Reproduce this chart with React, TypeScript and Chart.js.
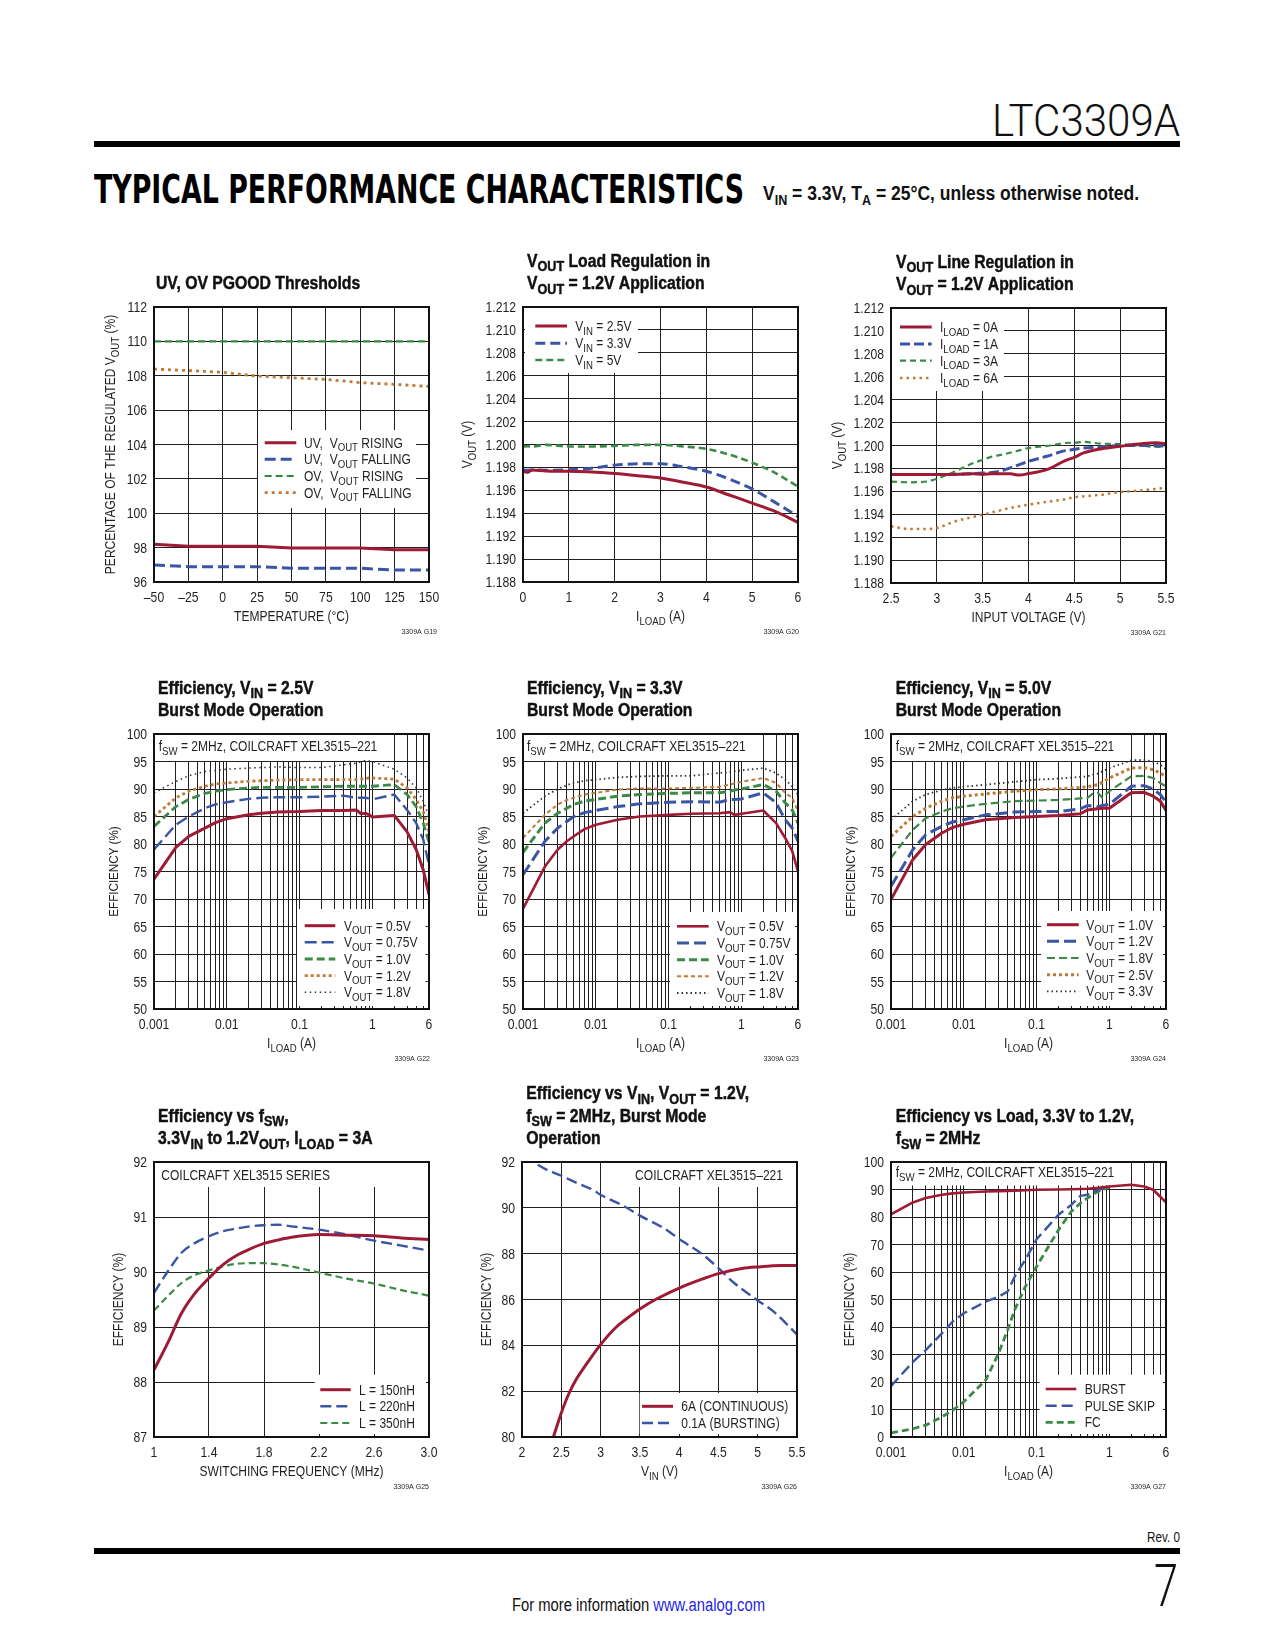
import React, { useEffect, useLayoutEffect, useRef } from "react";
import { Chart, registerables } from "chart.js";

Chart.register(...registerables);

/* ---------------- colours & fonts ---------------- */
const SANS = '"Liberation Sans", Arial, Helvetica, sans-serif';
const TXT = "#231f20";
const GRID = "#231f20";
const RED = "#9e1b36";
const BLUE = "#3b55a5";
const GREEN = "#3b8a47";
const ORANGE = "#c07a38";
const DOTS = "#333333";

/* ---------------- G19 : UV / OV PGOOD thresholds ---------------- */
const g19Temp = [-50, -25, 0, 25, 50, 75, 100, 125, 150];
const g19UvRising = [98.19, 98.08, 98.08, 98.08, 97.98, 97.98, 97.98, 97.88, 97.88];
const g19UvFalling = [96.99, 96.89, 96.89, 96.89, 96.8, 96.8, 96.8, 96.7, 96.7];
const g19OvRising = [110, 110, 110, 110, 110, 110, 110, 110, 110];
const g19OvFalling = [108.39, 108.3, 108.2, 107.98, 107.88, 107.79, 107.6, 107.5, 107.38];
const g19XTicks = [-50, -25, 0, 25, 50, 75, 100, 125, 150];
const g19XLabels = ["–50", "–25", "0", "25", "50", "75", "100", "125", "150"];
const g19YTicks = [96, 98, 100, 102, 104, 106, 108, 110, 112];
const g19YLabels = ["96", "98", "100", "102", "104", "106", "108", "110", "112"];

/* ---------------- G20 : load regulation ---------------- */
const g20Load = [0, 0.1, 0.2, 0.5, 1, 1.5, 2, 2.5, 3, 3.5, 4, 4.5, 5, 5.5, 6];
const g20Vin25 = [1.19769, 1.19757, 1.19778, 1.19769, 1.19766, 1.1976, 1.19746, 1.19728, 1.19708, 1.1967, 1.19629, 1.19559, 1.19489, 1.19416, 1.1932];
const g20Vin33 = [1.1978, 1.19775, 1.19778, 1.19776, 1.1978, 1.19793, 1.1982, 1.19831, 1.19831, 1.19804, 1.19766, 1.19699, 1.19612, 1.19495, 1.19372];
const g20Vin5 = [1.19983, 1.19985, 1.19983, 1.19997, 1.19983, 1.19983, 1.19988, 1.19997, 1.19997, 1.19983, 1.19962, 1.19912, 1.19842, 1.19752, 1.19632];
const g20XTicks = [0, 1, 2, 3, 4, 5, 6];
const g20XLabels = ["0", "1", "2", "3", "4", "5", "6"];
const regYTicks = [1.188, 1.19, 1.192, 1.194, 1.196, 1.198, 1.2, 1.202, 1.204, 1.206, 1.208, 1.21, 1.212];
const regYLabels = ["1.188", "1.190", "1.192", "1.194", "1.196", "1.198", "1.200", "1.202", "1.204", "1.206", "1.208", "1.210", "1.212"];

/* ---------------- G21 : line regulation ---------------- */
const g21Vin = [2.5, 2.7, 2.9, 3.0, 3.2, 3.4, 3.5, 3.6, 3.7, 3.8, 3.9, 4.0, 4.2, 4.4, 4.5, 4.6, 4.8, 5.0, 5.2, 5.4, 5.5];
const g21Load0 = [1.19748, 1.19748, 1.19748, 1.19748, 1.19748, 1.19753, 1.19748, 1.19753, 1.19753, 1.19753, 1.19742, 1.19755, 1.19789, 1.19868, 1.19897, 1.19935, 1.19972, 1.19993, 1.20013, 1.20025, 1.20013];
const g21Load1 = [1.19748, 1.19748, 1.19748, 1.19748, 1.19748, 1.19755, 1.1976, 1.19765, 1.19778, 1.19805, 1.19833, 1.19862, 1.19906, 1.19955, 1.19967, 1.19978, 1.1999, 1.19999, 1.2, 1.19999, 1.19995];
const g21Load3 = [1.19684, 1.19679, 1.19687, 1.1971, 1.19774, 1.19847, 1.19875, 1.19903, 1.19918, 1.19937, 1.19958, 1.19978, 1.19996, 1.20022, 1.20025, 1.20031, 1.20016, 1.20013, 1.20002, 1.19987, 1.19992];
const g21Load6 = [1.19295, 1.19271, 1.19271, 1.1928, 1.19338, 1.19377, 1.19396, 1.19416, 1.19436, 1.19455, 1.1947, 1.19484, 1.19508, 1.19531, 1.19548, 1.19556, 1.19571, 1.19594, 1.19606, 1.19622, 1.19629];
const g21XTicks = [2.5, 3, 3.5, 4, 4.5, 5, 5.5];
const g21XLabels = ["2.5", "3", "3.5", "4", "4.5", "5", "5.5"];

/* ---------------- shared log axis ---------------- */
const logTicks = [0.001, 0.002, 0.003, 0.004, 0.005, 0.006, 0.007, 0.008, 0.009, 0.01, 0.02, 0.03, 0.04, 0.05, 0.06, 0.07, 0.08, 0.09, 0.1, 0.2, 0.3, 0.4, 0.5, 0.6, 0.7, 0.8, 0.9, 1, 2, 3, 4, 5, 6];
const logLabels = ["0.001", "", "", "", "", "", "", "", "", "0.01", "", "", "", "", "", "", "", "", "0.1", "", "", "", "", "", "", "", "", "1", "", "", "", "", "6"];
const effYTicks = [50, 55, 60, 65, 70, 75, 80, 85, 90, 95, 100];
const effYLabels = ["50", "55", "60", "65", "70", "75", "80", "85", "90", "95", "100"];

/* ---------------- G22 : efficiency VIN = 2.5V ---------------- */
const g22Load = [0.001, 0.002, 0.003, 0.005, 0.007, 0.01, 0.02, 0.03, 0.05, 0.1, 0.2, 0.4, 0.6, 0.7, 0.8, 0.9, 1, 2, 3, 4, 5, 6];
const g22Vout05 = [73.6, 79.4, 81.4, 82.9, 83.9, 84.6, 85.3, 85.6, 85.8, 85.9, 86.1, 86.1, 86.2, 85.5, 85.6, 85.3, 84.9, 85.2, 82.2, 79.0, 75.3, 70.8];
const g22Vout075 = [79.0, 83.5, 85.0, 86.5, 87.2, 87.6, 88.2, 88.4, 88.5, 88.5, 88.6, 88.8, 88.4, 88.4, 88.4, 88.3, 88.1, 89.0, 86.2, 83.8, 80.8, 76.2];
const g22Vout10 = [83.2, 86.8, 88.1, 89.2, 89.6, 89.9, 90.2, 90.3, 90.3, 90.3, 90.4, 90.5, 90.5, 90.5, 90.5, 90.5, 90.5, 90.8, 89.0, 86.8, 83.8, 80.3];
const g22Vout12 = [85.0, 88.4, 89.6, 90.5, 90.9, 91.1, 91.4, 91.5, 91.6, 91.7, 91.7, 91.7, 91.7, 91.8, 91.9, 92.0, 92.0, 91.8, 90.2, 88.1, 85.9, 82.3];
const g22Vout18 = [89.3, 91.4, 92.4, 93.2, 93.4, 93.6, 93.8, 93.9, 94.0, 93.9, 93.9, 94.4, 94.7, 94.9, 95.2, 95.1, 95.0, 93.6, 92.0, 90.2, 87.8, 85.0];

/* ---------------- G23 : efficiency VIN = 3.3V ---------------- */
const g23Load = [0.001, 0.002, 0.003, 0.004, 0.005, 0.007, 0.01, 0.02, 0.04, 0.1, 0.2, 0.5, 0.7, 0.8, 1, 2, 3, 4, 5, 6];
const g23Vout05 = [68.2, 75.9, 79.0, 80.5, 81.4, 82.7, 83.5, 84.4, 85.0, 85.3, 85.5, 85.6, 85.8, 85.3, 85.5, 86.1, 83.8, 81.1, 78.7, 75.0];
const g23Vout075 = [74.4, 80.5, 82.9, 84.1, 85.0, 85.7, 86.1, 86.8, 87.3, 87.6, 87.7, 87.6, 88.1, 88.1, 88.2, 89.3, 87.5, 84.4, 82.9, 80.5];
const g23Vout10 = [78.5, 83.8, 85.6, 86.5, 87.2, 87.8, 88.1, 88.7, 89.0, 89.2, 89.3, 89.3, 89.6, 89.8, 90.0, 90.8, 89.6, 87.5, 86.2, 83.8];
const g23Vout12 = [81.1, 85.3, 87.2, 88.0, 88.4, 89.0, 89.3, 89.9, 90.1, 90.1, 90.2, 90.4, 90.8, 91.0, 91.3, 92.0, 91.1, 89.3, 88.4, 85.9];
const g23Vout18 = [85.6, 88.7, 90.0, 90.7, 91.1, 91.5, 91.7, 92.1, 92.3, 92.4, 92.4, 92.9, 93.1, 93.2, 93.4, 93.8, 92.9, 91.7, 90.5, 89.0];

/* ---------------- G24 : efficiency VIN = 5.0V ---------------- */
const g24Load = [0.001, 0.002, 0.003, 0.005, 0.007, 0.01, 0.02, 0.05, 0.1, 0.2, 0.4, 0.5, 0.6, 0.7, 0.8, 1, 2, 3, 4, 5, 6];
const g24Vout10 = [69.9, 77.2, 79.9, 82.0, 83.0, 83.6, 84.4, 84.8, 85.0, 85.2, 85.5, 86.2, 86.3, 86.4, 86.5, 86.5, 89.3, 89.4, 88.7, 87.8, 86.1];
const g24Vout12 = [72.3, 79.0, 81.7, 83.2, 84.0, 84.4, 85.3, 85.8, 85.9, 85.9, 86.4, 87.0, 86.9, 86.8, 87.0, 87.2, 90.5, 90.6, 90.0, 89.0, 87.6];
const g24Vout18 = [77.5, 82.6, 84.7, 85.9, 86.5, 86.8, 87.3, 87.8, 87.9, 88.0, 88.3, 88.4, 89.2, 89.3, 88.4, 89.6, 92.3, 92.4, 92.0, 91.1, 90.5];
const g24Vout25 = [81.4, 85.0, 86.5, 87.8, 88.4, 88.7, 89.1, 89.6, 89.9, 90.0, 90.3, 90.4, 90.6, 90.8, 91.2, 92.0, 93.8, 93.9, 93.5, 92.9, 92.2];
const g24Vout33 = [84.4, 87.8, 89.0, 89.8, 90.2, 90.4, 90.8, 91.3, 91.7, 91.9, 92.2, 92.3, 92.6, 92.8, 93.2, 93.8, 95.2, 95.3, 95.0, 94.4, 93.6];

/* ---------------- G25 : efficiency vs fSW ---------------- */
const g25Freq = [1.0, 1.1, 1.2, 1.3, 1.4, 1.5, 1.6, 1.7, 1.8, 1.9, 2.0, 2.2, 2.4, 2.6, 2.8, 3.0];
const g25L150 = [88.22, 88.71, 89.25, 89.62, 89.89, 90.13, 90.3, 90.42, 90.52, 90.58, 90.63, 90.68, 90.67, 90.66, 90.62, 90.59];
const g25L220 = [89.62, 90.01, 90.35, 90.53, 90.65, 90.74, 90.79, 90.83, 90.85, 90.86, 90.83, 90.77, 90.68, 90.57, 90.48, 90.39];
const g25L350 = [89.3, 89.56, 89.8, 89.95, 90.03, 90.1, 90.15, 90.16, 90.16, 90.14, 90.1, 89.99, 89.88, 89.79, 89.67, 89.57];
const g25XTicks = [1, 1.4, 1.8, 2.2, 2.6, 3.0];
const g25XLabels = ["1", "1.4", "1.8", "2.2", "2.6", "3.0"];
const g25YTicks = [87, 88, 89, 90, 91, 92];
const g25YLabels = ["87", "88", "89", "90", "91", "92"];

/* ---------------- G26 : efficiency vs VIN ---------------- */
const g26VinCont = [2.4, 2.5, 2.6, 2.7, 2.8, 3.0, 3.2, 3.4, 3.5, 3.7, 4.0, 4.3, 4.5, 4.8, 5.0, 5.3, 5.5];
const g26Cont6A = [80.0, 81.05, 81.92, 82.57, 83.08, 84.03, 84.8, 85.34, 85.59, 86.0, 86.5, 86.9, 87.13, 87.35, 87.42, 87.48, 87.48];
const g26VinBurst = [2.2, 2.3, 2.5, 2.7, 2.9, 3.0, 3.3, 3.5, 3.8, 4.0, 4.3, 4.5, 4.7, 5.0, 5.2, 5.5];
const g26Burst01A = [91.88, 91.69, 91.4, 91.08, 90.79, 90.57, 90.07, 89.66, 89.12, 88.64, 87.96, 87.37, 86.72, 85.96, 85.48, 84.47];
const g26XTicks = [2, 2.5, 3, 3.5, 4, 4.5, 5, 5.5];
const g26XLabels = ["2", "2.5", "3", "3.5", "4", "4.5", "5", "5.5"];
const g26YTicks = [80, 82, 84, 86, 88, 90, 92];
const g26YLabels = ["80", "82", "84", "86", "88", "90", "92"];

/* ---------------- G27 : efficiency vs load, modes ---------------- */
const g27LoadBurst = [0.001, 0.002, 0.003, 0.005, 0.007, 0.01, 0.02, 0.03, 0.04, 0.05, 0.07, 0.1, 0.2, 0.3, 0.4, 0.5, 0.7, 1, 2, 3, 4, 6];
const g27Burst = [81.0, 85.3, 86.9, 88.1, 88.6, 88.9, 89.3, 89.4, 89.5, 89.6, 89.7, 89.9, 90.0, 90.1, 90.2, 90.3, 90.6, 91.1, 91.7, 91.1, 89.9, 85.3];
const g27LoadLight = [0.001, 0.002, 0.003, 0.005, 0.007, 0.01, 0.02, 0.03, 0.04, 0.05, 0.07, 0.1, 0.2, 0.3, 0.4, 0.5, 0.7, 1];
const g27PulseSkip = [18.5, 27.3, 31.6, 37.7, 41.9, 45.0, 49.2, 51.0, 52.9, 58.3, 64.4, 71.9, 80.8, 84.4, 87.7, 88.1, 89.9, 90.9];
const g27Fc = [1.5, 3.0, 4.3, 7.3, 9.7, 12.8, 20.7, 30.4, 38.9, 46.2, 54.7, 62.0, 75.3, 82.0, 85.0, 86.9, 89.3, 90.9];
const g27YTicks = [0, 10, 20, 30, 40, 50, 60, 70, 80, 90, 100];
const g27YLabels = ["0", "10", "20", "30", "40", "50", "60", "70", "80", "90", "100"];

/* ---------------- geometry of one chart canvas ---------------- */
const PL = 70; // plot left inside canvas
const PT = 95; // plot top inside canvas
const PW = 275;
const PH = 275;
const CW = 365;
const CH = 430;

type Series = { label: string; x: number[]; y: number[]; color: string; width: number; dash: number[]; smooth?: boolean };
type Spec = {
  id: string;
  left: number;
  top: number;
  xType: "linear" | "logarithmic";
  xMin: number;
  xMax: number;
  xTicks: number[];
  xLabels: string[];
  yMin: number;
  yMax: number;
  yTicks: number[];
  yLabels: string[];
  series: Series[];
  title: string[];
  titleDx: number;
  xTitle: string;
  yTitle: string;
  yTitleDx: number;
  yTitleSize: number;
  tag: string;
  tagDx: number;
  legend: { box: number[]; line: number[]; textX: number; rows: number[] };
  note?: { box: number[]; text: string; x: number; y: number; align: "left" | "right" };
};

/* ---------------- rich text (subscripts) ---------------- */
type Seg = { t: string; sub: boolean };
function parseRich(s: string): Seg[] {
  const out: Seg[] = [];
  const re = /_\{([^}]*)\}/g;
  let last = 0;
  let m: RegExpExecArray | null;
  while ((m = re.exec(s))) {
    if (m.index > last) out.push({ t: s.slice(last, m.index), sub: false });
    out.push({ t: m[1], sub: true });
    last = re.lastIndex;
  }
  if (last < s.length) out.push({ t: s.slice(last), sub: false });
  return out;
}

function drawRich(
  ctx: CanvasRenderingContext2D,
  s: string,
  x: number,
  y: number,
  size: number,
  align: "left" | "right" | "center" = "left",
  weight = "normal",
  cond = 0.86,
  color = TXT,
  stroke = 0
) {
  const segs = parseRich(s);
  const fonts = segs.map((g) => `${weight} ${g.sub ? size * 0.8 : size}px ${SANS}`);
  let total = 0;
  const ws = segs.map((g, i) => {
    ctx.font = fonts[i];
    const w = ctx.measureText(g.t).width;
    total += w;
    return w;
  });
  ctx.save();
  ctx.translate(x, y);
  ctx.scale(cond, 1);
  ctx.fillStyle = color;
  ctx.strokeStyle = color;
  ctx.lineWidth = stroke;
  ctx.lineJoin = "round";
  ctx.setLineDash([]);
  ctx.textBaseline = "alphabetic";
  ctx.textAlign = "left";
  let cx = align === "left" ? 0 : align === "right" ? -total : -total / 2;
  segs.forEach((g, i) => {
    ctx.font = fonts[i];
    const yy = g.sub ? size * 0.27 : 0;
    ctx.fillText(g.t, cx, yy);
    if (stroke > 0) ctx.strokeText(g.t, cx, yy);
    cx += ws[i];
  });
  ctx.restore();
}

function makeDeco(spec: Spec) {
  return {
    id: "deco_" + spec.id,
    beforeDatasetsDraw(chart: any) {
      const { ctx, chartArea: ca } = chart;
      ctx.save();
      ctx.fillStyle = "#ffffff";
      const boxes = [spec.legend.box];
      if (spec.note) boxes.push(spec.note.box);
      for (const b of boxes) ctx.fillRect(ca.left + b[0], ca.top + b[1], b[2] - b[0], b[3] - b[1]);
      ctx.restore();
    },
    afterDatasetsDraw(chart: any) {
      const { ctx, chartArea: ca } = chart;
      const xs = chart.scales.x;
      const ys = chart.scales.y;
      // frame
      ctx.save();
      ctx.strokeStyle = "#111111";
      ctx.lineWidth = 2;
      ctx.setLineDash([]);
      ctx.strokeRect(ca.left, ca.top, ca.right - ca.left, ca.bottom - ca.top);
      ctx.restore();
      // tick labels
      spec.xTicks.forEach((v, i) => {
        const lab = spec.xLabels[i];
        if (!lab) return;
        drawRich(ctx, lab, xs.getPixelForValue(v), ca.bottom + 19.5, 14, "center", "normal", 0.87);
      });
      spec.yTicks.forEach((v, i) => {
        drawRich(ctx, spec.yLabels[i], ca.left - 7, ys.getPixelForValue(v) + 5, 14, "right", "normal", 0.87);
      });
      // legend
      const lg = spec.legend;
      spec.series.forEach((s, i) => {
        const yy = ca.top + lg.rows[i];
        ctx.save();
        ctx.strokeStyle = s.color;
        ctx.lineWidth = s.width;
        ctx.setLineDash(s.dash);
        ctx.lineCap = "butt";
        ctx.beginPath();
        ctx.moveTo(ca.left + lg.line[0], yy);
        ctx.lineTo(ca.left + lg.line[1], yy);
        ctx.stroke();
        ctx.restore();
        drawRich(ctx, s.label, ca.left + lg.textX, yy + 5, 14, "left");
      });
      // note
      if (spec.note) {
        drawRich(ctx, spec.note.text, ca.left + spec.note.x, ca.top + spec.note.y, 14, spec.note.align);
      }
      // chart title
      const n = spec.title.length;
      spec.title.forEach((t, i) => {
        drawRich(ctx, t, ca.left + spec.titleDx, ca.top - 18 - 22.5 * (n - 1 - i), 17.5, "left", "bold", 0.9, "#111", 0.45);
      });
      // axis titles
      drawRich(ctx, spec.xTitle, (ca.left + ca.right) / 2, ca.bottom + 39, 14, "center");
      ctx.save();
      ctx.translate(ca.left + spec.yTitleDx, (ca.top + ca.bottom) / 2);
      ctx.rotate(-Math.PI / 2);
      drawRich(ctx, spec.yTitle, 0, spec.yTitleSize * 0.36, spec.yTitleSize, "center");
      ctx.restore();
      // figure tag
      drawRich(ctx, spec.tag, ca.right + spec.tagDx, ca.bottom + 52, 8, "right", "normal", 0.88);
    },
  };
}

function buildConfig(spec: Spec): any {
  return {
    type: "line",
    data: {
      datasets: spec.series.map((s) => ({
        label: s.label,
        data: s.x.map((x, i) => ({ x, y: s.y[i] })),
        borderColor: s.color,
        backgroundColor: s.color,
        borderWidth: s.width,
        borderDash: s.dash,
        borderCapStyle: "butt",
        borderJoinStyle: "round",
        pointRadius: 0,
        pointHoverRadius: 0,
        fill: false,
        tension: s.smooth ? 0.4 : 0,
        cubicInterpolationMode: s.smooth ? "monotone" : "default",
      })),
    },
    options: {
      responsive: false,
      animation: false,
      devicePixelRatio: 1,
      events: [],
      layout: { padding: { top: PT, right: CW - PL - PW, bottom: 0, left: 0 } },
      plugins: { legend: { display: false }, tooltip: { enabled: false }, title: { display: false } },
      scales: {
        x: {
          type: spec.xType,
          position: "bottom",
          min: spec.xMin,
          max: spec.xMax,
          afterBuildTicks: (sc: any) => {
            sc.ticks = spec.xTicks.map((v) => ({ value: v }));
          },
          afterFit: (sc: any) => {
            sc.height = CH - PT - PH;
          },
          ticks: { display: false, autoSkip: false },
          grid: { color: GRID, lineWidth: 1, drawTicks: false },
          border: { display: false },
        },
        y: {
          type: "linear",
          position: "left",
          min: spec.yMin,
          max: spec.yMax,
          afterBuildTicks: (sc: any) => {
            sc.ticks = spec.yTicks.map((v) => ({ value: v }));
          },
          afterFit: (sc: any) => {
            sc.width = PL;
          },
          ticks: { display: false, autoSkip: false },
          grid: { color: GRID, lineWidth: 1, drawTicks: false },
          border: { display: false },
        },
      },
    },
    plugins: [makeDeco(spec)],
  };
}

/* ---------------- the nine charts ---------------- */
const SPECS: Spec[] = [
  {
    id: "g19", left: 154, top: 307,
    xType: "linear", xMin: -50, xMax: 150, xTicks: g19XTicks, xLabels: g19XLabels,
    yMin: 96, yMax: 112, yTicks: g19YTicks, yLabels: g19YLabels,
    series: [
      { label: "UV,  V_{OUT} RISING", x: g19Temp, y: g19UvRising, color: RED, width: 3, dash: [] },
      { label: "UV,  V_{OUT} FALLING", x: g19Temp, y: g19UvFalling, color: BLUE, width: 3, dash: [11, 5] },
      { label: "OV,  V_{OUT} RISING", x: g19Temp, y: g19OvRising, color: "#2f8a40", width: 2.2, dash: [7, 4] },
      { label: "OV,  V_{OUT} FALLING", x: g19Temp, y: g19OvFalling, color: ORANGE, width: 2.8, dash: [3, 4] },
    ],
    title: ["UV, OV PGOOD Thresholds"], titleDx: 2,
    xTitle: "TEMPERATURE (°C)", yTitle: "PERCENTAGE OF THE REGULATED V_{OUT} (%)", yTitleDx: -44, yTitleSize: 14,
    tag: "3309A G19", tagDx: 8,
    legend: { box: [104, 123, 262, 201], line: [110.7, 142.3], textX: 150, rows: [135.7, 152.3, 169, 185.7] },
  },
  {
    id: "g20", left: 523, top: 307,
    xType: "linear", xMin: 0, xMax: 6, xTicks: g20XTicks, xLabels: g20XLabels,
    yMin: 1.188, yMax: 1.212, yTicks: regYTicks, yLabels: regYLabels,
    series: [
      { label: "V_{IN} = 2.5V", x: g20Load, y: g20Vin25, color: RED, width: 3, dash: [], smooth: true },
      { label: "V_{IN} = 3.3V", x: g20Load, y: g20Vin33, color: BLUE, width: 3, dash: [10, 5], smooth: true },
      { label: "V_{IN} = 5V", x: g20Load, y: g20Vin5, color: GREEN, width: 2.6, dash: [7, 4], smooth: true },
    ],
    title: ["V_{OUT} Load Regulation in", "V_{OUT} = 1.2V Application"], titleDx: 4,
    xTitle: "I_{LOAD} (A)", yTitle: "V_{OUT} (V)", yTitleDx: -56, yTitleSize: 14,
    tag: "3309A G20", tagDx: 1,
    legend: { box: [2, 1, 115, 66], line: [12.3, 44], textX: 52.3, rows: [19, 36.3, 53] },
  },
  {
    id: "g21", left: 891, top: 308,
    xType: "linear", xMin: 2.5, xMax: 5.5, xTicks: g21XTicks, xLabels: g21XLabels,
    yMin: 1.188, yMax: 1.212, yTicks: regYTicks, yLabels: regYLabels,
    series: [
      { label: "I_{LOAD} = 0A", x: g21Vin, y: g21Load0, color: RED, width: 3, dash: [], smooth: true },
      { label: "I_{LOAD} = 1A", x: g21Vin, y: g21Load1, color: BLUE, width: 3, dash: [10, 4], smooth: true },
      { label: "I_{LOAD} = 3A", x: g21Vin, y: g21Load3, color: GREEN, width: 2.2, dash: [6, 4], smooth: true },
      { label: "I_{LOAD} = 6A", x: g21Vin, y: g21Load6, color: ORANGE, width: 2.5, dash: [2.5, 4], smooth: true },
    ],
    title: ["V_{OUT} Line Regulation in", "V_{OUT} = 1.2V Application"], titleDx: 5,
    xTitle: "INPUT VOLTAGE (V)", yTitle: "V_{OUT} (V)", yTitleDx: -54, yTitleSize: 14,
    tag: "3309A G21", tagDx: 0,
    legend: { box: [0, 0, 113, 83], line: [9, 40.7], textX: 49, rows: [19, 36, 52.7, 70] },
  },
  {
    id: "g22", left: 154, top: 734,
    xType: "logarithmic", xMin: 0.001, xMax: 6, xTicks: logTicks, xLabels: logLabels,
    yMin: 50, yMax: 100, yTicks: effYTicks, yLabels: effYLabels,
    series: [
      { label: "V_{OUT} = 0.5V", x: g22Load, y: g22Vout05, color: RED, width: 3, dash: [] },
      { label: "V_{OUT} = 0.75V", x: g22Load, y: g22Vout075, color: BLUE, width: 2.4, dash: [12, 5] },
      { label: "V_{OUT} = 1.0V", x: g22Load, y: g22Vout10, color: GREEN, width: 2.8, dash: [8, 4] },
      { label: "V_{OUT} = 1.2V", x: g22Load, y: g22Vout12, color: ORANGE, width: 2.8, dash: [3, 3] },
      { label: "V_{OUT} = 1.8V", x: g22Load, y: g22Vout18, color: DOTS, width: 1.5, dash: [1.5, 3.5] },
    ],
    title: ["Efficiency, V_{IN} = 2.5V", "Burst Mode Operation"], titleDx: 4,
    xTitle: "I_{LOAD} (A)", yTitle: "EFFICIENCY (%)", yTitleDx: -41, yTitleSize: 13.5,
    tag: "3309A G22", tagDx: 1,
    legend: { box: [143, 175, 271.5, 272], line: [150.7, 181.3], textX: 190, rows: [191.7, 208.3, 225, 241.7, 258.3] },
    note: { box: [0, 0, 236, 27], text: "f_{SW} = 2MHz, COILCRAFT XEL3515–221", x: 4.7, y: 17.3, align: "left" },
  },
  {
    id: "g23", left: 523, top: 734,
    xType: "logarithmic", xMin: 0.001, xMax: 6, xTicks: logTicks, xLabels: logLabels,
    yMin: 50, yMax: 100, yTicks: effYTicks, yLabels: effYLabels,
    series: [
      { label: "V_{OUT} = 0.5V", x: g23Load, y: g23Vout05, color: RED, width: 2.6, dash: [] },
      { label: "V_{OUT} = 0.75V", x: g23Load, y: g23Vout075, color: BLUE, width: 3, dash: [12, 5] },
      { label: "V_{OUT} = 1.0V", x: g23Load, y: g23Vout10, color: GREEN, width: 3, dash: [8, 4] },
      { label: "V_{OUT} = 1.2V", x: g23Load, y: g23Vout12, color: ORANGE, width: 2, dash: [4, 3] },
      { label: "V_{OUT} = 1.8V", x: g23Load, y: g23Vout18, color: DOTS, width: 1.8, dash: [1.5, 3] },
    ],
    title: ["Efficiency, V_{IN} = 3.3V", "Burst Mode Operation"], titleDx: 4,
    xTitle: "I_{LOAD} (A)", yTitle: "EFFICIENCY (%)", yTitleDx: -41, yTitleSize: 13.5,
    tag: "3309A G23", tagDx: 1,
    legend: { box: [147, 178, 272, 272], line: [154, 185.7], textX: 194, rows: [192.3, 209, 225.7, 242.3, 259] },
    note: { box: [0, 0, 234, 27], text: "f_{SW} = 2MHz, COILCRAFT XEL3515–221", x: 4, y: 17.3, align: "left" },
  },
  {
    id: "g24", left: 891, top: 734,
    xType: "logarithmic", xMin: 0.001, xMax: 6, xTicks: logTicks, xLabels: logLabels,
    yMin: 50, yMax: 100, yTicks: effYTicks, yLabels: effYLabels,
    series: [
      { label: "V_{OUT} = 1.0V", x: g24Load, y: g24Vout10, color: RED, width: 3, dash: [] },
      { label: "V_{OUT} = 1.2V", x: g24Load, y: g24Vout12, color: BLUE, width: 3, dash: [12, 5] },
      { label: "V_{OUT} = 1.8V", x: g24Load, y: g24Vout18, color: GREEN, width: 2.2, dash: [8, 4] },
      { label: "V_{OUT} = 2.5V", x: g24Load, y: g24Vout25, color: ORANGE, width: 3, dash: [3, 3] },
      { label: "V_{OUT} = 3.3V", x: g24Load, y: g24Vout33, color: DOTS, width: 1.8, dash: [1.5, 3] },
    ],
    title: ["Efficiency, V_{IN} = 5.0V", "Burst Mode Operation"], titleDx: 4.7,
    xTitle: "I_{LOAD} (A)", yTitle: "EFFICIENCY (%)", yTitleDx: -41, yTitleSize: 13.5,
    tag: "3309A G24", tagDx: 0,
    legend: { box: [150, 177, 272, 272], line: [156, 187.7], textX: 195.3, rows: [190.7, 207.3, 224, 240.7, 257.3] },
    note: { box: [0, 0, 236, 27], text: "f_{SW} = 2MHz, COILCRAFT XEL3515–221", x: 4.7, y: 17.3, align: "left" },
  },
  {
    id: "g25", left: 154, top: 1162,
    xType: "linear", xMin: 1, xMax: 3, xTicks: g25XTicks, xLabels: g25XLabels,
    yMin: 87, yMax: 92, yTicks: g25YTicks, yLabels: g25YLabels,
    series: [
      { label: "L = 150nH", x: g25Freq, y: g25L150, color: RED, width: 3, dash: [], smooth: true },
      { label: "L = 220nH", x: g25Freq, y: g25L220, color: BLUE, width: 2.4, dash: [11, 5], smooth: true },
      { label: "L = 350nH", x: g25Freq, y: g25L350, color: GREEN, width: 2.2, dash: [7, 4], smooth: true },
    ],
    title: ["Efficiency vs f_{SW},", "3.3V_{IN} to 1.2V_{OUT}, I_{LOAD} = 3A"], titleDx: 4,
    xTitle: "SWITCHING FREQUENCY (MHz)", yTitle: "EFFICIENCY (%)", yTitleDx: -36, yTitleSize: 14,
    tag: "3309A G25", tagDx: 0,
    legend: { box: [160.7, 212.7, 272, 272], line: [166.3, 196.7], textX: 205, rows: [227.7, 244.3, 261] },
    note: { box: [0, 0, 275, 25], text: "COILCRAFT XEL3515 SERIES", x: 7.3, y: 17.7, align: "left" },
  },
  {
    id: "g26", left: 522, top: 1162,
    xType: "linear", xMin: 2, xMax: 5.5, xTicks: g26XTicks, xLabels: g26XLabels,
    yMin: 80, yMax: 92, yTicks: g26YTicks, yLabels: g26YLabels,
    series: [
      { label: "6A (CONTINUOUS)", x: g26VinCont, y: g26Cont6A, color: RED, width: 3, dash: [], smooth: true },
      { label: "0.1A (BURSTING)", x: g26VinBurst, y: g26Burst01A, color: BLUE, width: 2.4, dash: [11, 5], smooth: true },
    ],
    title: ["Efficiency vs V_{IN}, V_{OUT} = 1.2V,", "f_{SW} = 2MHz, Burst Mode", "Operation"], titleDx: 4.3,
    xTitle: "V_{IN} (V)", yTitle: "EFFICIENCY (%)", yTitleDx: -36, yTitleSize: 14,
    tag: "3309A G26", tagDx: 0,
    legend: { box: [117.7, 231, 272, 272], line: [120, 151], textX: 159.3, rows: [244.3, 261] },
    note: { box: [109, 0, 275, 25], text: "COILCRAFT XEL3515–221", x: 261, y: 17.7, align: "right" },
  },
  {
    id: "g27", left: 891, top: 1162,
    xType: "logarithmic", xMin: 0.001, xMax: 6, xTicks: logTicks, xLabels: logLabels,
    yMin: 0, yMax: 100, yTicks: g27YTicks, yLabels: g27YLabels,
    series: [
      { label: "BURST", x: g27LoadBurst, y: g27Burst, color: RED, width: 2.6, dash: [] },
      { label: "PULSE SKIP", x: g27LoadLight, y: g27PulseSkip, color: BLUE, width: 2.4, dash: [11, 5] },
      { label: "FC", x: g27LoadLight, y: g27Fc, color: GREEN, width: 2.8, dash: [7, 4] },
    ],
    title: ["Efficiency vs Load, 3.3V to 1.2V,", "f_{SW} = 2MHz"], titleDx: 4.7,
    xTitle: "I_{LOAD} (A)", yTitle: "EFFICIENCY (%)", yTitleDx: -42, yTitleSize: 14,
    tag: "3309A G27", tagDx: 0,
    legend: { box: [148.7, 212.7, 272, 272], line: [154.7, 185.3], textX: 193.7, rows: [227, 243.7, 260.3] },
    note: { box: [0, 0, 232, 23.5], text: "f_{SW} = 2MHz, COILCRAFT XEL3515–221", x: 4.7, y: 15, align: "left" },
  },
];

function ChartBox({ spec }: { spec: Spec }) {
  const ref = useRef<HTMLCanvasElement>(null);
  useEffect(() => {
    const c = ref.current;
    if (!c) return;
    const chart = new Chart(c, buildConfig(spec));
    return () => chart.destroy();
  }, [spec]);
  return (
    <canvas
      ref={ref}
      width={CW}
      height={CH}
      style={{ position: "absolute", left: spec.left - PL, top: spec.top - PT, width: CW, height: CH }}
    />
  );
}

/* ---------------- page text fitted to a width ---------------- */
function FitText(props: {
  left: number;
  capTop: number;
  width: number;
  size: number;
  family: string;
  weight?: string | number;
  color?: string;
  children: React.ReactNode;
}) {
  const ref = useRef<HTMLDivElement>(null);
  useLayoutEffect(() => {
    const el = ref.current;
    if (!el) return;
    const fit = () => {
      el.style.transform = "none";
      const w = el.getBoundingClientRect().width;
      if (w > 0) el.style.transform = `scaleX(${props.width / w})`;
    };
    fit();
    if ((document as any).fonts && (document as any).fonts.ready) (document as any).fonts.ready.then(fit);
  }, [props.width]);
  return (
    <div
      ref={ref}
      style={{
        position: "absolute",
        left: props.left,
        top: props.capTop - 0.13 * props.size,
        fontSize: props.size,
        lineHeight: `${props.size}px`,
        fontFamily: props.family,
        fontWeight: props.weight ?? "normal",
        color: props.color ?? "#000",
        whiteSpace: "nowrap",
        transformOrigin: "left top",
      }}
    >
      {props.children}
    </div>
  );
}

const subStyle: React.CSSProperties = { fontSize: "0.72em", position: "relative", top: "0.3em" };

export default function App() {
  return (
    <div style={{ position: "absolute", left: 0, top: 0, width: 1275, height: 1650, background: "#fff", overflow: "hidden" }}>
      <FitText left={992} capTop={105} width={188} size={44} family='Roboto, "Liberation Sans", sans-serif' weight={300} color="#111">
        LTC3309A
      </FitText>
      <div style={{ position: "absolute", left: 94, top: 141, width: 1086, height: 6, background: "#000" }} />
      <FitText left={94} capTop={175} width={650} size={39} family='"DejaVu Sans", sans-serif' weight="bold" color="#000">
        TYPICAL PERFORMANCE CHARACTERISTICS
      </FitText>
      <FitText left={763} capTop={186} width={376} size={20} family='"Liberation Sans", sans-serif' weight="bold" color="#111">
        V<span style={subStyle}>IN</span> = 3.3V, T<span style={subStyle}>A</span> = 25°C, unless otherwise noted.
      </FitText>

      {SPECS.map((s) => (
        <ChartBox key={s.id} spec={s} />
      ))}

      <FitText left={1147} capTop={1532} width={33} size={14} family='"Liberation Sans", sans-serif' color="#111">
        Rev. 0
      </FitText>
      <div style={{ position: "absolute", left: 94, top: 1548, width: 1086, height: 6, background: "#000" }} />
      <FitText left={1154} capTop={1564} width={24} size={60} family='Roboto, "Liberation Sans", sans-serif' weight={300} color="#111">
        7
      </FitText>
      <FitText left={512} capTop={1598} width={253} size={18} family='"Liberation Sans", sans-serif' color="#111">
        For more information <span style={{ color: "#1f1fe0" }}>www.analog.com</span>
      </FitText>
    </div>
  );
}
